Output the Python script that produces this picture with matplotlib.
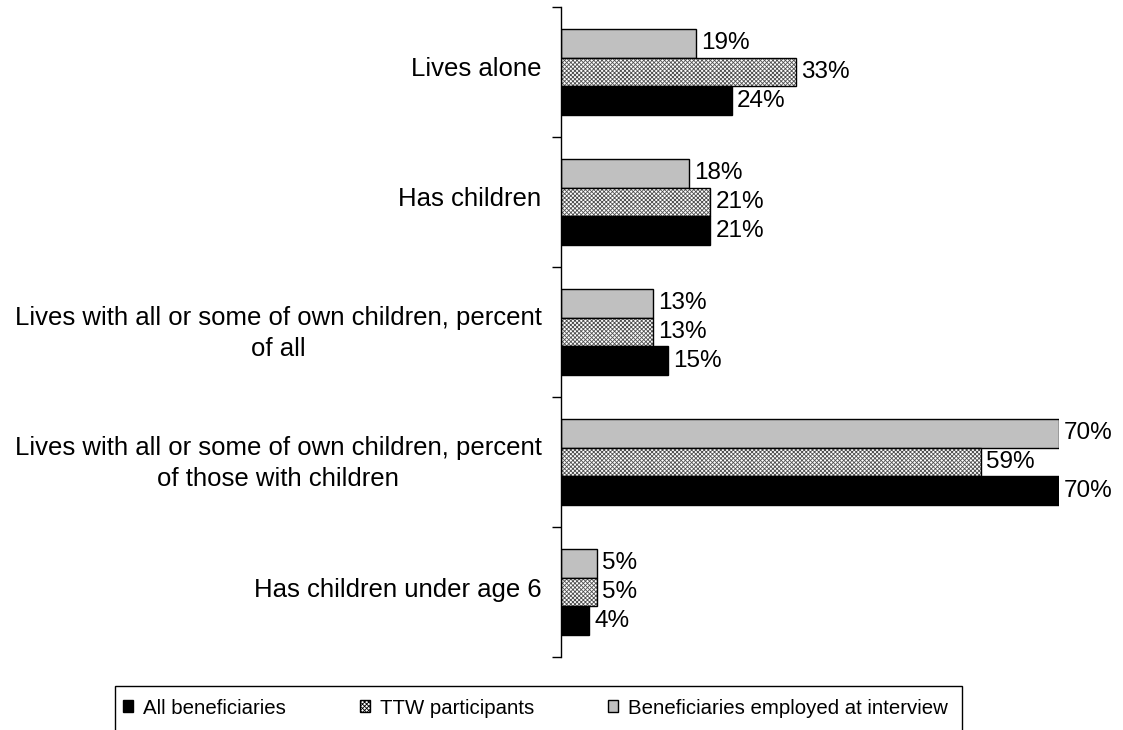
import matplotlib.pyplot as plt
import matplotlib.patches as mpatches
import matplotlib.transforms as mtransforms
from matplotlib import font_manager
import numpy as np

categories = [
    "Lives alone",
    "Has children",
    "Lives with all or some of own children, percent\nof all",
    "Lives with all or some of own children, percent\nof those with children",
    "Has children under age 6",
]
all_benef = [24, 21, 15, 70, 4]
ttw = [33, 21, 13, 59, 5]
employed = [19, 18, 13, 70, 5]
series_names = ["All beneficiaries", "TTW participants", "Beneficiaries employed at interview"]

plt.rcParams['font.family'] = ['Liberation Sans', 'DejaVu Sans']
plt.rcParams['hatch.linewidth'] = 0.6

# legend uses a condensed face if there is one
try:
    font_manager.findfont("Liberation Sans Narrow", fallback_to_default=False)
    leg_family, leg_size = "Liberation Sans Narrow", 18
except Exception:
    leg_family, leg_size = "Liberation Sans", 14.7

fig = plt.figure(figsize=(11.23, 7.30), dpi=100)
ax = fig.add_axes([561 / 1123, 73 / 730, 498 / 1123, 650 / 730])

y = np.arange(len(categories))
h = 0.22
bars_emp = ax.barh(y - h, employed, height=h, color="#c0c0c0", edgecolor="black", linewidth=1)
# hatch drawn in grey, then outline on top
ax.barh(y, ttw, height=h, color="white", edgecolor="#505050", hatch="xxxxxxxx", linewidth=0)
bars_ttw = ax.barh(y, ttw, height=h, color="none", edgecolor="black", linewidth=1)
bars_all = ax.barh(y + h, all_benef, height=h, color="black", edgecolor="black", linewidth=1)

for bars, vals in [(bars_emp, employed), (bars_ttw, ttw), (bars_all, all_benef)]:
    for b, v in zip(bars, vals):
        ax.text(b.get_width() + 0.7, b.get_y() + b.get_height() / 2, f"{v}%",
                va="center", ha="left", fontsize=17.5, clip_on=False)

ax.set_xlim(0, 70)
ax.set_ylim(len(categories) - 0.5, -0.5)
ax.set_yticks(y)
ax.set_yticklabels(categories, fontsize=18.5, multialignment="center", linespacing=1.4)
ax.set_yticks(np.arange(len(categories) + 1) - 0.5, minor=True)
ax.tick_params(axis="y", which="major", length=0, pad=14)
ax.tick_params(axis="y", which="minor", length=6.5, width=1, direction="out")
ax.set_xticks([])
for side in ["top", "right", "bottom"]:
    ax.spines[side].set_visible(False)
ax.spines["left"].set_linewidth(1)

# nudge the category labels up a little, like the original
shift = mtransforms.ScaledTranslation(0, 5 / 100, fig.dpi_scale_trans)
for lbl in ax.get_yticklabels():
    lbl.set_transform(lbl.get_transform() + shift)

# legend frame (bottom runs off the figure)
frame = mpatches.Rectangle((115 / 1123, -0.05), (962 - 115) / 1123, (730 - 686) / 730 + 0.05,
                           transform=fig.transFigure, facecolor="white", edgecolor="black",
                           linewidth=1, clip_on=False)
fig.add_artist(frame)

handles = [
    mpatches.Patch(facecolor="black", edgecolor="black"),
    mpatches.Patch(facecolor="white", edgecolor="black", hatch="xxxxxxxx"),
    mpatches.Patch(facecolor="#c0c0c0", edgecolor="black"),
]
handle_x = [123, 360, 608]
for hd, name, hx in zip(handles, series_names, handle_x):
    lg = fig.legend([hd], [name], loc="center left", bbox_to_anchor=(hx / 1123, (730 - 708) / 730),
                    frameon=False, prop={"family": leg_family, "size": leg_size},
                    handlelength=0.5, handleheight=0.5, handletextpad=0.5,
                    borderpad=0, borderaxespad=0)

fig.savefig("out.png", dpi=100)
